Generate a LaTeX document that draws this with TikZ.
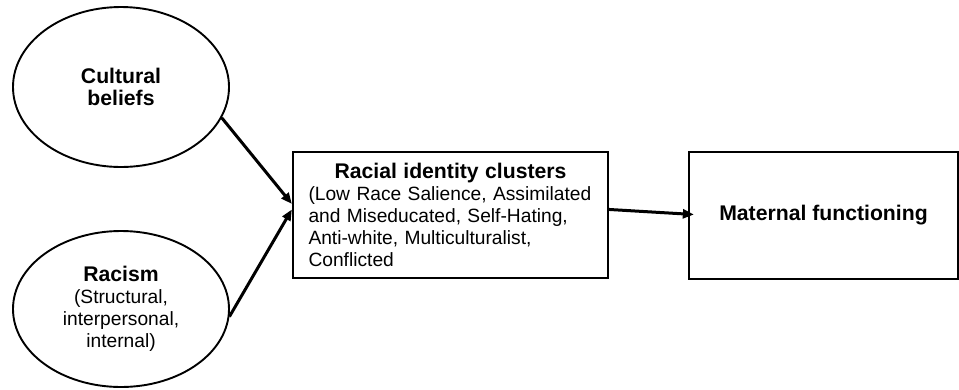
\documentclass[tikz,border=0pt]{standalone}
\usepackage{fontspec}
\setmainfont{Liberation Sans}
\usepackage{tikz}
\usetikzlibrary{shapes,arrows.meta,positioning,calc}

\newcommand{\headtext}[1]{{\fontsize{21.2}{22}\selectfont\bfseries #1}}
\newcommand{\clusterfont}{\fontsize{19.2}{22}\selectfont\hyphenpenalty=10000\relax}

\tikzset{
    belief/.style={ellipse, draw, line width=1.9pt, minimum width=216pt, align=center, inner sep=0pt,
        font=\fontsize{19.2}{22}\selectfont},
    cluster/.style={rectangle, draw, line width=2.3pt, minimum width=315pt, minimum height=126pt,
        text width=284pt, align=left, inner sep=0pt, font=\clusterfont},
    outcome/.style={rectangle, draw, line width=2.3pt, minimum width=269pt, minimum height=127pt,
        align=center, inner sep=0pt},
    link/.style={line width=3pt, -{Triangle[length=11pt,width=9pt]}}
}

\begin{document}
\begin{tikzpicture}[x=1pt,y=-1pt]
    \useasboundingbox (0,0) rectangle (959,389);

    \node[belief, minimum height=160pt] (cult) at (121,87) {\headtext{Cultural}\\\headtext{beliefs}};
    \node[belief, minimum height=156pt] (rac) at (121,309) {\headtext{Racism}\\(Structural,\\interpersonal,\\internal)};
    \node[cluster] (clus) at (450.5,215) {\hfill\headtext{Racial identity clusters}\hfill\null\\
        (Low Race Salience, Assimilated\\and Miseducated, Self-Hating,\\Anti-white, Multiculturalist,\\Conflicted};
    \node[outcome] (mat) at (823.5,215.5) {\headtext{Maternal functioning}};

    \draw[link] (cult.-17) -- (clus.176.7);
    \draw[link] (rac.-4) -- (clus.178.9);
    \draw[link] (clus.2.5) -- ([xshift=6pt,yshift=1pt]mat.west);
\end{tikzpicture}
\end{document}
